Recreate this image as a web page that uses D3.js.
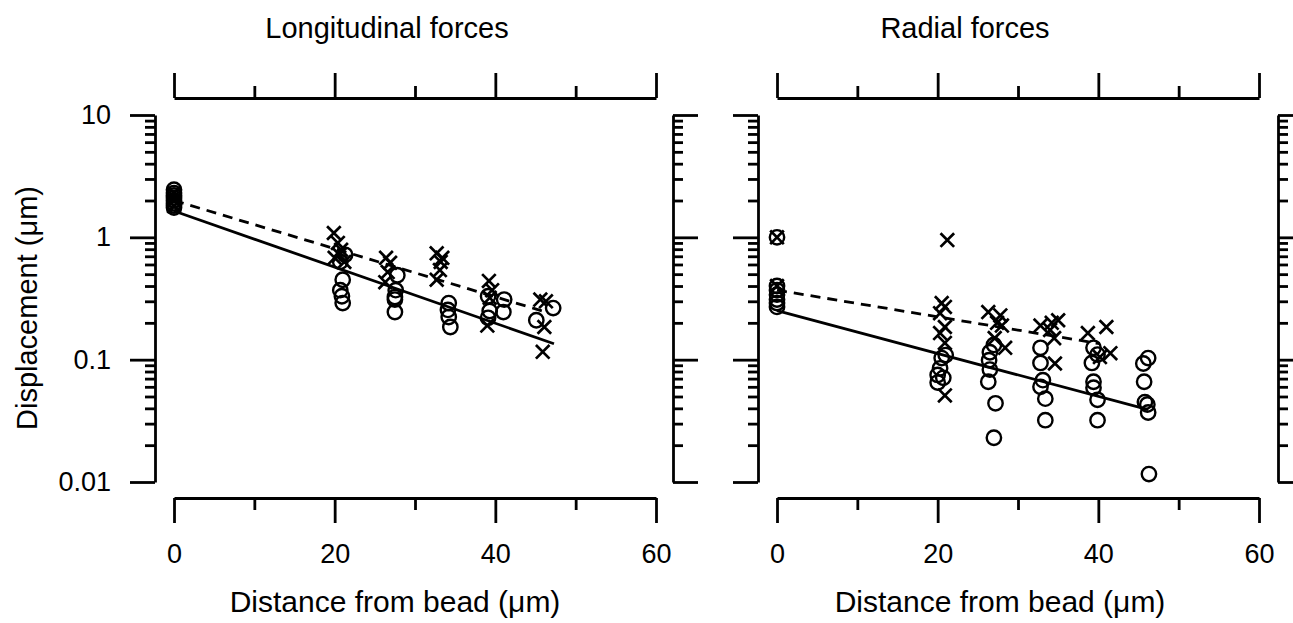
<!DOCTYPE html>
<html><head><meta charset="utf-8">
<script src="https://cdn.jsdelivr.net/npm/d3@7"></script>
<style>
body{margin:0;background:#fff}
svg{display:block}
text{font-family:"Liberation Sans",Arial,Helvetica,sans-serif;fill:#000;font-size:27px}
.ttl{font-size:29px}
.xt{font-size:30px}
</style>
</head><body><svg id="c" width="1293" height="623"></svg>
<script>
// ---------- data ----------
const panelTitles = ["Longitudinal forces", "Radial forces"];
const xTitle = "Distance from bead (\u03bcm)";
const yTitle = "Displacement (\u03bcm)";
const xTicksMajor = [0, 20, 40, 60];
const xTicksMinor = [10, 30, 50];
const yTicksMajor = [0.01, 0.1, 1, 10];
const yTickLabels = ["0.01", "0.1", "1", "10"];
const yTicksMinor = [0.02,0.03,0.04,0.05,0.06,0.07,0.08,0.09,
                     0.2,0.3,0.4,0.5,0.6,0.7,0.8,0.9,
                     2,3,4,5,6,7,8,9];

// Longitudinal: circles
const lonCircDist = [0,0,0,0,0,0,0,0, 21.3,20.7,21.0,20.7,20.9,21.0, 27.8,27.6,27.5,27.5,27.5, 34.2,34.1,34.2,34.4, 39.1,39.3,39.1,41.1,41.0, 45.1,47.2];
const lonCircDisp = [2.45,2.3,2.2,2.1,2.0,1.9,1.82,1.75, 0.72,0.63,0.45,0.37,0.33,0.29, 0.49,0.37,0.325,0.31,0.245, 0.29,0.255,0.223,0.185, 0.33,0.25,0.22,0.31,0.245, 0.21,0.264];
// Longitudinal: crosses
const lonCrossDist = [0,0,0, 19.9,20.4,20.8,20.0,21.2,20.6, 26.4,26.9,26.6,26.3, 32.7,33.2,33.1,32.7,33.4, 39.2,39.6,39.3,39.0, 45.6,46.3,46.1,45.9];
const lonCrossDisp = [2.3,2.0,1.8, 1.085,0.90,0.79,0.68,0.63,0.72, 0.68,0.62,0.52,0.43, 0.74,0.63,0.54,0.45,0.68, 0.44,0.37,0.32,0.19, 0.31,0.30,0.185,0.116];
// Longitudinal fitted lines [start, end]
const lonSolidDist = [0, 47.3];
const lonSolidDisp = [1.64, 0.135];
const lonDashDist = [0, 46.3];
const lonDashDisp = [2.0, 0.245];

// Radial: circles
const radCircDist = [0,0,0,0,0,0,0, 20.5,21.0,20.3,20.0,20.0,20.7, 27.0,26.5,26.4,26.5,26.3,27.2,27.0, 32.8,32.8,33.1,32.8,33.4,33.4, 39.4,39.9,39.2,39.4,39.4,39.9,39.9, 46.2,45.6,45.7,45.8,46.1,46.2,46.3];
const radCircDisp = [1.0,0.40,0.37,0.34,0.31,0.29,0.27, 0.103,0.109,0.085,0.075,0.065,0.071, 0.132,0.115,0.099,0.083,0.066,0.044,0.023, 0.125,0.094,0.068,0.06,0.048,0.032, 0.125,0.11,0.094,0.066,0.059,0.047,0.032, 0.103,0.093,0.066,0.045,0.043,0.037,0.0116];
// Radial: crosses
const radCrossDist = [0,0, 21.2,20.5,20.9,20.3,20.9,20.3,20.9,20.9, 26.3,27.8,27.4,28.0,28.4,27.1, 32.8,34.2,35.0,34.0,34.5,34.6, 38.7,41.0,41.5,40.2];
const radCrossDisp = [1.0,0.40, 0.95,0.29,0.27,0.24,0.185,0.165,0.137,0.051, 0.245,0.23,0.20,0.19,0.125,0.15, 0.19,0.20,0.21,0.175,0.15,0.093, 0.165,0.185,0.113,0.105];
// Radial fitted lines
const radSolidDist = [0, 46.2];
const radSolidDisp = [0.252, 0.039];
const radDashDist = [0, 40.2];
const radDashDisp = [0.37, 0.135];

// ---------- layout ----------
const svg = d3.select("#c");
const yTop = 115, yBot = 482, axTop = 98, axBot = 498;
const panels = [
  {x0:174, x1:656, yl:155, yr:673, title:panelTitles[0], tcx:387, xtcx:395, labels:true,
   circ:[lonCircDist,lonCircDisp], cross:[lonCrossDist,lonCrossDisp],
   solid:[lonSolidDist,lonSolidDisp], dash:[lonDashDist,lonDashDisp]},
  {x0:777, x1:1259, yl:758, yr:1278, title:panelTitles[1], tcx:965, xtcx:1000, labels:false,
   circ:[radCircDist,radCircDisp], cross:[radCrossDist,radCrossDisp],
   solid:[radSolidDist,radSolidDisp], dash:[radDashDist,radDashDisp]}
];
const y = d3.scaleLog().domain([0.01,10]).range([yBot,yTop]);

function styleAxis(g){
  g.attr("font-size",null).attr("font-family",null);
  g.selectAll(".domain").attr("stroke","#000").attr("stroke-width",2.8);
  g.selectAll(".tick line").attr("stroke","#000").attr("stroke-width",2.8);
}

panels.forEach(p=>{
  const x = d3.scaleLinear().domain([0,60]).range([p.x0,p.x1]);
  // bottom axis
  svg.append("g").attr("transform",`translate(0,${axBot})`)
    .call(d3.axisBottom(x).tickValues(xTicksMajor).tickSize(25).tickSizeOuter(0).tickPadding(21).tickFormat(d3.format("d")))
    .call(styleAxis);
  svg.append("g").attr("transform",`translate(0,${axBot})`)
    .call(d3.axisBottom(x).tickValues(xTicksMinor).tickSize(12).tickSizeOuter(0).tickFormat(""))
    .call(styleAxis).call(g=>g.select(".domain").remove());
  // top axis
  svg.append("g").attr("transform",`translate(0,${axTop})`)
    .call(d3.axisTop(x).tickValues(xTicksMajor).tickSize(25).tickSizeOuter(0).tickFormat(""))
    .call(styleAxis);
  svg.append("g").attr("transform",`translate(0,${axTop})`)
    .call(d3.axisTop(x).tickValues(xTicksMinor).tickSize(12).tickSizeOuter(0).tickFormat(""))
    .call(styleAxis).call(g=>g.select(".domain").remove());
  // left y axis
  svg.append("g").attr("transform",`translate(${p.yl},0)`)
    .call(d3.axisLeft(y).tickValues(yTicksMajor).tickSize(25).tickSizeOuter(0).tickPadding(19)
      .tickFormat((d,i)=>p.labels ? yTickLabels[i] : ""))
    .call(styleAxis);
  svg.append("g").attr("transform",`translate(${p.yl},0)`)
    .call(d3.axisLeft(y).tickValues(yTicksMinor).tickSize(10).tickSizeOuter(0).tickFormat(""))
    .call(styleAxis).call(g=>g.select(".domain").remove());
  // right y axis
  svg.append("g").attr("transform",`translate(${p.yr},0)`)
    .call(d3.axisRight(y).tickValues(yTicksMajor).tickSize(25).tickSizeOuter(0).tickFormat(""))
    .call(styleAxis);
  svg.append("g").attr("transform",`translate(${p.yr},0)`)
    .call(d3.axisRight(y).tickValues(yTicksMinor).tickSize(10).tickSizeOuter(0).tickFormat(""))
    .call(styleAxis).call(g=>g.select(".domain").remove());

  // titles
  svg.append("text").attr("class","ttl").attr("x",p.tcx).attr("y",38).attr("text-anchor","middle").text(p.title);
  svg.append("text").attr("class","xt").attr("x",p.xtcx).attr("y",612).attr("text-anchor","middle").text(xTitle);

  // fitted lines
  const line = d3.line().x(d=>x(d[0])).y(d=>y(d[1]));
  svg.append("path").datum(d3.zip(p.solid[0],p.solid[1])).attr("d",line)
    .attr("fill","none").attr("stroke","#000").attr("stroke-width",2.8);
  svg.append("path").datum(d3.zip(p.dash[0],p.dash[1])).attr("d",line)
    .attr("fill","none").attr("stroke","#000").attr("stroke-width",2.8).attr("stroke-dasharray","10,7");

  // circles
  svg.append("g").selectAll("circle").data(d3.zip(p.circ[0],p.circ[1])).join("circle")
    .attr("cx",d=>x(d[0])).attr("cy",d=>y(d[1])).attr("r",7.2)
    .attr("fill","none").attr("stroke","#000").attr("stroke-width",2.4);
  // crosses
  const s = 6.8;
  svg.append("g").selectAll("path").data(d3.zip(p.cross[0],p.cross[1])).join("path")
    .attr("transform",d=>`translate(${x(d[0])},${y(d[1])})`)
    .attr("d",`M${-s},${-s}L${s},${s}M${-s},${s}L${s},${-s}`)
    .attr("fill","none").attr("stroke","#000").attr("stroke-width",2.7);
});

// y title
svg.append("text").attr("class","ttl").attr("transform","translate(37,308) rotate(-90)")
  .attr("text-anchor","middle").text(yTitle);
</script>
</body></html>
